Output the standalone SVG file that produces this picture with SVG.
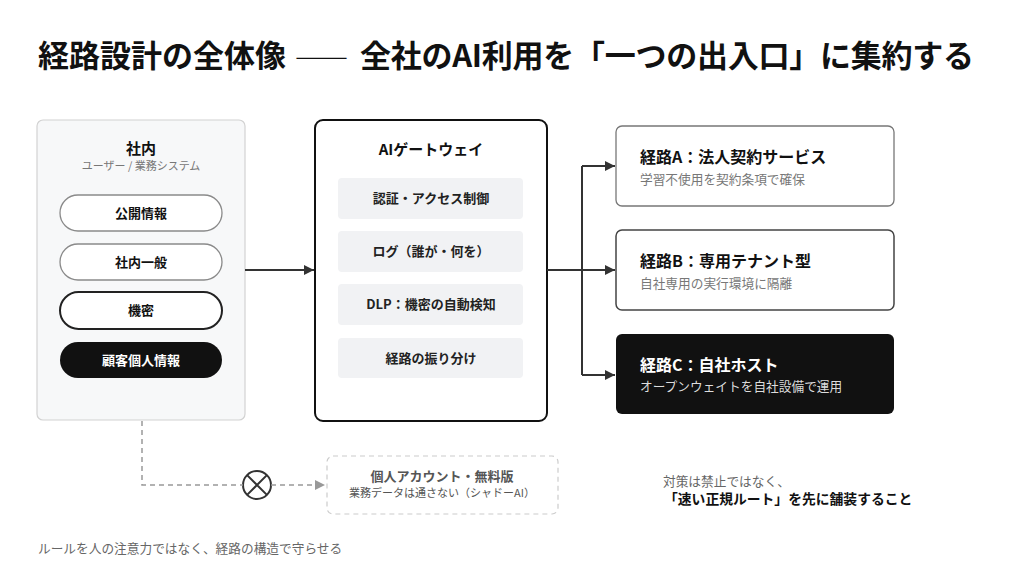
<svg xmlns="http://www.w3.org/2000/svg" width="1024" height="566" viewBox="0 0 1024 566">
<defs>
<style>
text{font-family:"Noto Sans CJK JP","Noto Sans",sans-serif;}
.b{font-weight:700;}
.c{text-anchor:middle;}
.pill{fill:#fff;stroke:#8a8a8a;stroke-width:1.3;}
.gbox{fill:#f1f2f4;}
.line{fill:none;stroke:#333;stroke-width:2;}
.dash{fill:none;stroke:#999;stroke-width:1.5;stroke-dasharray:5 4;}
</style>
<marker id="ah" viewBox="0 0 10 10" refX="10" refY="5" markerWidth="10" markerHeight="10" markerUnits="userSpaceOnUse" orient="auto"><path d="M0,0L10,5L0,10z" fill="#333"/></marker>
<marker id="ahg" viewBox="0 0 10 10" refX="10" refY="5" markerWidth="10" markerHeight="10" markerUnits="userSpaceOnUse" orient="auto"><path d="M0,0L10,5L0,10z" fill="#999"/></marker>
</defs>
<rect width="1024" height="566" fill="#fff"/>
<text y="67" class="b" font-size="31" fill="#111"><tspan x="38">経路設計の全体像</tspan><tspan x="295" font-weight="300" textLength="53" lengthAdjust="spacingAndGlyphs">——</tspan><tspan x="360" textLength="614" lengthAdjust="spacing">全社のAI利用を「一つの出入口」に集約する</tspan></text>

<g id="internal">
<rect x="37" y="120" width="208" height="300" rx="6" fill="#f7f8f9" stroke="#d2d2d2" stroke-width="1.2"/>
<text x="141" y="154" class="b c" font-size="15" fill="#111">社内</text>
<text x="141" y="170" class="c" font-size="11" fill="#777">ユーザー / 業務システム</text>
<rect class="pill" x="60" y="195" width="162" height="36" rx="18"/>
<text x="141" y="218" class="b c" font-size="13" fill="#111">公開情報</text>
<rect class="pill" x="60" y="244" width="162" height="36" rx="18"/>
<text x="141" y="267" class="b c" font-size="13" fill="#111">社内一般</text>
<rect x="60" y="292" width="162" height="37" rx="18.5" fill="#fff" stroke="#222" stroke-width="2"/>
<text x="141" y="315" class="b c" font-size="13" fill="#111">機密</text>
<rect x="60" y="342" width="162" height="36" rx="18" fill="#111"/>
<text x="141" y="365" class="b c" font-size="13" fill="#fff">顧客個人情報</text>
</g>

<g id="gateway">
<rect x="315" y="120" width="232" height="301" rx="8" fill="#fff" stroke="#111" stroke-width="2"/>
<text x="431" y="155" class="b c" font-size="15" fill="#111">AIゲートウェイ</text>
<rect class="gbox" x="338" y="178" width="185" height="41" rx="4"/>
<text x="431" y="203" class="b c" font-size="13" fill="#222">認証・アクセス制御</text>
<rect class="gbox" x="338" y="231" width="185" height="41" rx="4"/>
<text x="431" y="256" class="b c" font-size="13" fill="#222">ログ（誰が・何を）</text>
<rect class="gbox" x="338" y="284" width="185" height="41" rx="4"/>
<text x="431" y="309" class="b c" font-size="13" fill="#222">DLP：機密の自動検知</text>
<rect class="gbox" x="338" y="338" width="185" height="40" rx="4"/>
<text x="431" y="363" class="b c" font-size="13" fill="#222">経路の振り分け</text>
</g>

<g id="routeA">
<rect x="616" y="126" width="278" height="80" rx="6" fill="#fff" stroke="#777" stroke-width="1.3"/>
<text x="640" y="163" class="b" font-size="16" fill="#111">経路A：法人契約サービス</text>
<text x="640" y="184" font-size="12.7" fill="#777">学習不使用を契約条項で確保</text>
</g>
<g id="routeB">
<rect x="616" y="230" width="278" height="80" rx="6" fill="#fff" stroke="#444" stroke-width="1.5"/>
<text x="640" y="267" class="b" font-size="16" fill="#111">経路B：専用テナント型</text>
<text x="640" y="288" font-size="12.7" fill="#777">自社専用の実行環境に隔離</text>
</g>
<g id="routeC">
<rect x="616" y="334" width="278" height="80" rx="6" fill="#111"/>
<text x="640" y="371" class="b" font-size="16" fill="#fff">経路C：自社ホスト</text>
<text x="640" y="391" font-size="12.7" fill="#ddd">オープンウェイトを自社設備で運用</text>
</g>

<g id="shadow">
<rect x="327" y="456" width="231" height="58" rx="6" fill="#fff" stroke="#ccc" stroke-width="1.2" stroke-dasharray="5 4"/>
<text x="442" y="481" class="b c" font-size="13" fill="#555">個人アカウント・無料版</text>
<text x="442" y="497" class="c" font-size="11" fill="#555">業務データは通さない（シャドーAI）</text>
</g>

<g id="block">
<circle cx="257" cy="485" r="14" fill="#fff" stroke="#333" stroke-width="2"/>
<path d="M247.1,475.1L266.9,494.9M266.9,475.1L247.1,494.9" stroke="#333" stroke-width="2"/>
</g>

<g id="connectors">
<path class="line" d="M245,270H314" marker-end="url(#ah)"/>
<path class="line" d="M547,270H582" />
<path class="line" d="M582,166V375" />
<path class="line" d="M582,166H615" marker-end="url(#ah)"/>
<path class="line" d="M582,270H615" marker-end="url(#ah)"/>
<path class="line" d="M582,375H615" marker-end="url(#ah)"/>
<path class="dash" d="M142,421V485H243"/>
<path class="dash" d="M271,485H325" marker-end="url(#ahg)"/>
</g>

<g id="note">
<text x="663" y="485.5" font-size="12.7" fill="#666">対策は禁止ではなく、</text>
<text x="664" y="504" class="b" font-size="13.8" fill="#111">「速い正規ルート」を先に舗装すること</text>
</g>
<text x="38" y="553" font-size="12.7" fill="#666">ルールを人の注意力ではなく、経路の構造で守らせる</text>
</svg>
